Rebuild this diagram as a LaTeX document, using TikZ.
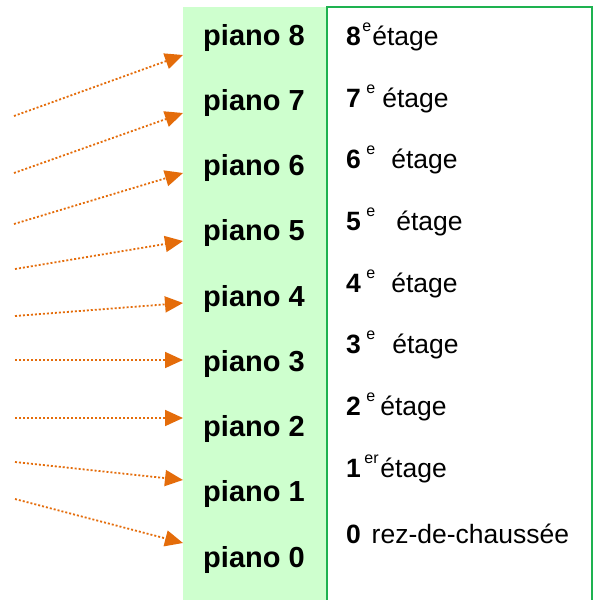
\documentclass[tikz,border=0pt]{standalone}
\usepackage{fontspec}
\setmainfont{Liberation Sans}
\usetikzlibrary{arrows.meta}
\definecolor{pale}{RGB}{206,255,206}
\definecolor{edge}{RGB}{30,178,80}
\definecolor{orng}{RGB}{228,108,10}
\newcommand\expo[1]{\raisebox{14pt}{\fontsize{16}{16}\selectfont #1}}
\begin{document}
\begin{tikzpicture}[x=1pt,y=-1pt,
  pianolbl/.style={anchor=base,font=\fontsize{29}{31}\selectfont\bfseries,inner sep=0pt},
  floorlbl/.style={anchor=base west,font=\fontsize{26.5}{30}\selectfont,inner sep=0pt},
  ptr/.style={orng,line width=1.8pt,dash pattern=on 2pt off 2pt,-{Triangle[length=18pt,width=16pt]}}]
\useasboundingbox (0,0) rectangle (594,600);
% green column and bordered box
\fill[pale] (183,7) rectangle (327,600);
\draw[edge,line width=2pt] (327,600) -- (327,7) -- (592,7) -- (592,600);
% piano labels
\node[pianolbl] (p8) at (254,45) {piano 8};
\node[pianolbl] (p7) at (254,110.25) {piano 7};
\node[pianolbl] (p6) at (254,175.5) {piano 6};
\node[pianolbl] (p5) at (254,240.75) {piano 5};
\node[pianolbl] (p4) at (254,306) {piano 4};
\node[pianolbl] (p3) at (254,371.25) {piano 3};
\node[pianolbl] (p2) at (254,436.5) {piano 2};
\node[pianolbl] (p1) at (254,501.75) {piano 1};
\node[pianolbl] (p0) at (254,567) {piano 0};
% floor labels
\node[floorlbl] (f8) at (346,45) {{\bfseries 8}\hspace{1.5pt}\expo{e}\hspace{1pt}étage};
\node[floorlbl] (f7) at (346,107) {{\bfseries 7}\hspace{5.5pt}\expo{e}\hspace{7pt}étage};
\node[floorlbl] (f6) at (346,168) {{\bfseries 6}\hspace{5.5pt}\expo{e}\hspace{16pt}étage};
\node[floorlbl] (f5) at (346,230) {{\bfseries 5}\hspace{5.5pt}\expo{e}\hspace{21pt}étage};
\node[floorlbl] (f4) at (346,292) {{\bfseries 4}\hspace{5.5pt}\expo{e}\hspace{16pt}étage};
\node[floorlbl] (f3) at (346,353) {{\bfseries 3}\hspace{5.5pt}\expo{e}\hspace{17pt}étage};
\node[floorlbl] (f2) at (346,415) {{\bfseries 2}\hspace{5.5pt}\expo{e}\hspace{5pt}étage};
\node[floorlbl] (f1) at (346,477) {{\bfseries 1}\hspace{3.5pt}\expo{er}\hspace{1.8pt}étage};
\node[floorlbl] (f0) at (346,543) {{\bfseries 0}\hspace{10.8pt}rez-de-chaussée};
% arrow ends
\coordinate (s1) at (14,116);  \coordinate (t1) at (183,55);
\coordinate (s2) at (14,173);  \coordinate (t2) at (183,113);
\coordinate (s3) at (14,224);  \coordinate (t3) at (183,173);
\coordinate (s4) at (15,269);  \coordinate (t4) at (183,241);
\coordinate (s5) at (15,316);  \coordinate (t5) at (183,303);
\coordinate (s6) at (15,360);  \coordinate (t6) at (183,360);
\coordinate (s7) at (15,418);  \coordinate (t7) at (183,418);
\coordinate (s8) at (15,462);  \coordinate (t8) at (183,480);
\coordinate (s9) at (15,499);  \coordinate (t9) at (183,543);
\foreach \i in {1,...,9} { \draw[ptr] (s\i) -- (t\i); }
\end{tikzpicture}
\end{document}
